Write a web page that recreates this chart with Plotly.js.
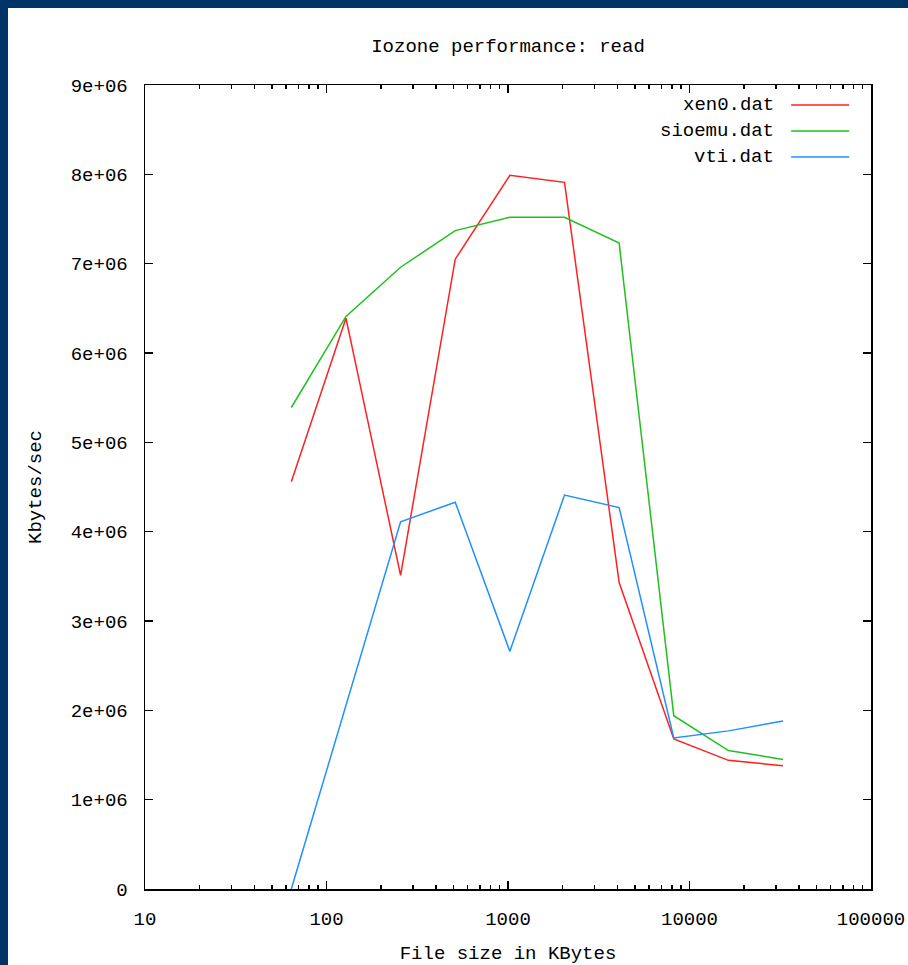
<!DOCTYPE html>
<html>
<head>
<meta charset="utf-8">
<script src="https://cdn.plot.ly/plotly-3.0.1.min.js"></script>
<style>
  html, body { margin: 0; padding: 0; width: 908px; height: 965px; background: #003366; overflow: hidden; }
  #chart { position: absolute; left: 8px; top: 8px; width: 900px; height: 957px; background: #ffffff; }
</style>
</head>
<body>
<div id="chart"></div>
<script>
// ---- data ----
const fileSizes = [64, 128, 256, 512, 1024, 2048, 4096, 8192, 16384, 32768];
const xen0   = [4.56e6, 6.39e6, 3.51e6, 7.05e6, 7.99e6, 7.91e6, 3.43e6, 1.68e6, 1.44e6, 1.38e6];
const sioemu = [5.39e6, 6.41e6, 6.96e6, 7.37e6, 7.52e6, 7.52e6, 7.23e6, 1.94e6, 1.55e6, 1.45e6];
const vti    = [0, 2.05e6, 4.11e6, 4.33e6, 2.66e6, 4.41e6, 4.27e6, 1.69e6, 1.77e6, 1.88e6];
const seriesNames = ["xen0.dat", "sioemu.dat", "vti.dat"];
const seriesColors = ["#ff2020", "#20c020", "#2090ff"];
const yTickVals = [0, 1e6, 2e6, 3e6, 4e6, 5e6, 6e6, 7e6, 8e6, 9e6];
const yTickText = ["0", "1e+06", "2e+06", "3e+06", "4e+06", "5e+06", "6e+06", "7e+06", "8e+06", "9e+06"];
const xTickVals = [10, 100, 1000, 10000, 100000];
const xTickText = ["10", "100", "1000", "10000", "100000"];

const FONT = "Liberation Mono, DejaVu Sans Mono, monospace";
const seriesValues = [xen0, sioemu, vti];

const traces = seriesNames.map((name, i) => ({
  x: fileSizes,
  y: seriesValues[i],
  name: name,
  type: "scatter",
  mode: "lines",
  line: { color: seriesColors[i], width: 1.5 },
  showlegend: false,
  hoverinfo: "x+y+name"
}));

// legend drawn gnuplot-style: right-aligned text followed by a line sample
const legendRowsY = [0.975, 0.9428, 0.9106];
const annotations = seriesNames.map((name, i) => ({
  xref: "paper", yref: "paper",
  x: 0.869, y: legendRowsY[i],
  xanchor: "right", yanchor: "middle",
  text: name, showarrow: false,
  font: { family: FONT, size: 19, color: "#000" }
}));
const shapes = seriesNames.map((name, i) => ({
  type: "line", xref: "paper", yref: "paper",
  x0: 0.890, x1: 0.970, y0: legendRowsY[i], y1: legendRowsY[i],
  line: { color: seriesColors[i], width: 1.5 }
}));

const layout = {
  width: 900, height: 957,
  margin: { l: 137, r: 37, t: 77, b: 76 },
  paper_bgcolor: "#ffffff",
  plot_bgcolor: "#ffffff",
  font: { family: FONT, size: 19, color: "#000" },
  title: {
    text: "Iozone performance: read",
    font: { family: FONT, size: 19, color: "#000" },
    x: 0.5, xref: "paper", xanchor: "center",
    y: 1 - 37 / 957, yref: "container", yanchor: "middle"
  },
  xaxis: {
    type: "log",
    range: [1, 5],
    tickvals: xTickVals,
    ticktext: xTickText,
    ticks: "inside", ticklen: 8, tickwidth: 1.5, tickcolor: "#000",
    minor: { ticks: "inside", ticklen: 4, tickwidth: 1.5, tickcolor: "#000", dtick: "D1", showgrid: false },
    showline: true, linecolor: "#000", linewidth: 1.5, mirror: "ticks",
    showgrid: false, zeroline: false,
    ticklabelstandoff: 12,
    tickfont: { family: FONT, size: 19, color: "#000" },
    title: { text: "File size in KBytes", standoff: 18, font: { family: FONT, size: 19, color: "#000" } }
  },
  yaxis: {
    range: [0, 9e6],
    tickvals: yTickVals,
    ticktext: yTickText,
    ticks: "inside", ticklen: 8, tickwidth: 1.5, tickcolor: "#000",
    showline: true, linecolor: "#000", linewidth: 1.5, mirror: "ticks",
    showgrid: false, zeroline: false,
    ticklabelstandoff: 12,
    tickfont: { family: FONT, size: 19, color: "#000" },
    title: { text: "Kbytes/sec", standoff: 24, font: { family: FONT, size: 19, color: "#000" } }
  },
  annotations: annotations,
  shapes: shapes,
  showlegend: false
};

Plotly.newPlot("chart", traces, layout, { displayModeBar: false, staticPlot: true });
</script>
</body>
</html>
